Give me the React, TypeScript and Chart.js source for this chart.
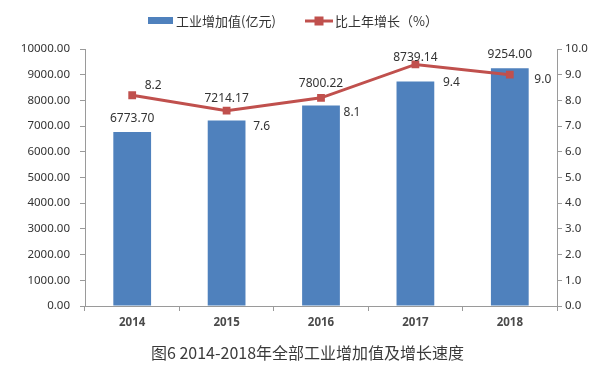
import React, { useEffect, useRef } from "react";
import { Chart, registerables } from "chart.js";

Chart.register(...registerables);

const categories = ["2014", "2015", "2016", "2017", "2018"];
const valueAdded = [6773.7, 7214.17, 7800.22, 8739.14, 9254.0];
const growth = [8.2, 7.6, 8.1, 9.4, 9.0];
const barLegend = "工业增加值(亿元)";
const lineLegend = "比上年增长（%）";
const captionText = "图6 2014-2018年全部工业增加值及增长速度";

// label placement offsets (style, relative to each mark)
const barLabelDy = [-13, -22, -22, -24, -14];
const lineLabelOffset: [number, number][] = [
  [21, -10],
  [35, 16],
  [31, 15],
  [36, 18],
  [33, 5],
];

const BLUE = "#4F81BD";
const RED = "#C0504D";
const TEXT = "#333333";
const AXIS = "#9a9a9a";
const NUM_FONT = '"Noto Sans", "DejaVu Sans", sans-serif';
const CJK_FONT = '"Noto Sans CJK SC", "Noto Sans", sans-serif';

export default function App() {
  const ref = useRef<HTMLCanvasElement | null>(null);

  useEffect(() => {
    document.body.style.margin = "0";
    const canvas = ref.current;
    if (!canvas) return;

    const labelsPlugin = {
      id: "customLabels",
      afterDraw(chart: any) {
        const ctx = chart.ctx;
        ctx.save();
        // bar labels
        const barMeta = chart.getDatasetMeta(1);
        ctx.font = `12px ${NUM_FONT}`;
        ctx.fillStyle = TEXT;
        ctx.textAlign = "center";
        ctx.textBaseline = "middle";
        barMeta.data.forEach((el: any, i: number) => {
          ctx.fillText(valueAdded[i].toFixed(2), el.x, el.y + barLabelDy[i]);
        });
        // line labels
        const lineMeta = chart.getDatasetMeta(0);
        lineMeta.data.forEach((el: any, i: number) => {
          const [dx, dy] = lineLabelOffset[i];
          ctx.fillText(growth[i].toFixed(1), el.x + dx, el.y + dy);
        });
        // legend
        ctx.fillStyle = BLUE;
        ctx.fillRect(148, 17, 25, 7);
        ctx.font = `13px ${CJK_FONT}`;
        ctx.fillStyle = TEXT;
        ctx.textAlign = "left";
        ctx.fillText(barLegend, 176, 21);
        ctx.strokeStyle = RED;
        ctx.lineWidth = 3;
        ctx.beginPath();
        ctx.moveTo(305, 21);
        ctx.lineTo(333, 21);
        ctx.stroke();
        ctx.fillStyle = RED;
        ctx.fillRect(314.5, 16.5, 9, 9);
        ctx.fillStyle = TEXT;
        ctx.fillText(lineLegend, 335, 21);
        // caption
        ctx.font = `16px ${CJK_FONT}`;
        ctx.fillStyle = "#3a3a3a";
        ctx.textAlign = "center";
        ctx.fillText(captionText, 307.5, 353);
        ctx.restore();
      },
    };

    const chart = new Chart(canvas, {
      type: "bar",
      data: {
        labels: categories,
        datasets: [
          {
            type: "line",
            label: lineLegend,
            data: growth,
            yAxisID: "y1",
            borderColor: RED,
            backgroundColor: RED,
            borderWidth: 3,
            pointStyle: "rect",
            pointRadius: 5.5,
            pointBorderWidth: 0,
            pointBackgroundColor: RED,
            order: 0,
          } as any,
          {
            type: "bar",
            label: barLegend,
            data: valueAdded,
            yAxisID: "y",
            backgroundColor: BLUE,
            categoryPercentage: 1,
            barPercentage: 0.4,
            order: 1,
          },
        ],
      },
      options: {
        responsive: false,
        animation: false,
        layout: { padding: { top: 49, left: 0, right: 0, bottom: 0 } },
        plugins: {
          legend: { display: false },
          title: { display: false },
          tooltip: { enabled: false },
        },
        scales: {
          x: {
            offset: true,
            grid: {
              offset: true,
              drawOnChartArea: false,
              drawTicks: true,
              tickLength: 5,
              color: AXIS,
            },
            border: { display: true, color: AXIS },
            ticks: {
              color: "#4a4a4a",
              font: { size: 11.5, family: NUM_FONT, weight: "bold" },
              padding: 5,
            },
            afterFit(scale: any) {
              scale.height = 61;
            },
          },
          y: {
            position: "left",
            min: 0,
            max: 10000,
            ticks: {
              stepSize: 1000,
              color: TEXT,
              font: { size: 11.5, family: NUM_FONT },
              padding: 10,
              callback: (v: any) => Number(v).toFixed(2),
            },
            grid: {
              drawOnChartArea: false,
              drawTicks: true,
              tickLength: 5,
              color: AXIS,
            },
            border: { display: true, color: AXIS },
            afterFit(scale: any) {
              scale.width = 85;
            },
          },
          y1: {
            position: "right",
            min: 0,
            max: 10,
            ticks: {
              stepSize: 1,
              color: TEXT,
              font: { size: 11.5, family: NUM_FONT },
              padding: 3,
              callback: (v: any) => Number(v).toFixed(1),
            },
            grid: {
              drawOnChartArea: false,
              drawTicks: true,
              tickLength: 5,
              color: AXIS,
            },
            border: { display: true, color: AXIS },
            afterFit(scale: any) {
              scale.width = 44;
            },
          },
        },
      },
      plugins: [labelsPlugin],
    });

    return () => chart.destroy();
  }, []);

  return (
    <div style={{ width: 601, height: 367, background: "#fff" }}>
      <canvas ref={ref} width={601} height={367} style={{ display: "block" }} />
    </div>
  );
}
